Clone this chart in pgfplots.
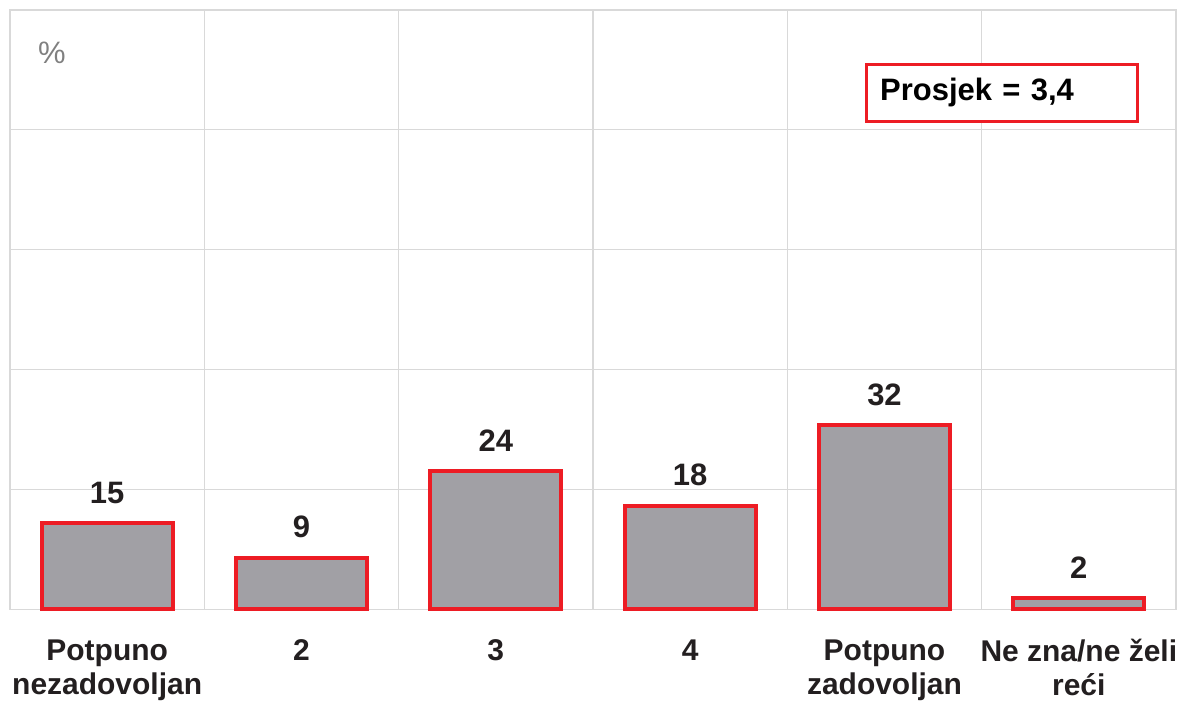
\documentclass[border=0pt]{standalone}
\usepackage{fontspec}
\setmainfont{Liberation Sans}
\usepackage{pgfplots}
\pgfplotsset{compat=1.18}

\definecolor{barfill}{RGB}{161,160,165}
\definecolor{barred}{RGB}{237,28,36}
\definecolor{gridgray}{RGB}{217,217,217}
\definecolor{txt}{RGB}{35,31,32}
\definecolor{pctgray}{RGB}{128,128,128}

\begin{document}
\begin{tikzpicture}
\useasboundingbox (-5pt,-47pt) rectangle (584.5pt,305pt);
\begin{axis}[
    at={(0,0)}, anchor=south west,
    scale only axis,
    width=583.5pt, height=300pt,
    xmin=-0.5, xmax=5.5,
    ymin=0, ymax=104,
    ytick={0,20.8,41.6,62.4,83.2,104},
    yticklabels={},
    ymajorgrids,
    xtick={0,1,2,3,4,5},
    xticklabels={{Potpuno\\nezadovoljan},{2},{3},{4},{Potpuno\\zadovoljan},{Ne zna/ne želi\\reći}},
    minor xtick={0.5,1.5,2.5,3.5,4.5},
    xminorgrids,
    major tick length=0pt, minor tick length=0pt,
    grid style={gridgray, line width=0.6pt},
    axis line style={gridgray, line width=0.6pt},
    xticklabel style={font=\fontsize{15}{17}\selectfont\bfseries, text=txt, align=center, yshift=-11.5pt},
    bar width=0.674,
    nodes near coords,
    /pgf/number format/assume math mode=true,
    every node near coord/.append style={font=\fontsize{15.5}{17.5}\selectfont\bfseries, text=txt, yshift=5.5pt},
    clip=false,
]
\addplot[ybar, fill=barfill, draw=barred, line width=2pt] coordinates {
    (0,15) (1,9) (2,24) (3,18) (4,32) (5,2)
};
\node[anchor=center, text=pctgray, font=\fontsize{15.5}{17.5}\selectfont] at (rel axis cs:0.036,0.928) {\%};
\node[anchor=north west, draw=barred, line width=1.5pt, fill=white, text=black,
      font=\fontsize{15.5}{17.5}\selectfont\bfseries,
      text width=122pt, inner sep=7pt, minimum height=28pt, align=left]
      at (rel axis cs:0.733,0.912) {Prosjek = 3,4};
\end{axis}
\end{tikzpicture}
\end{document}
